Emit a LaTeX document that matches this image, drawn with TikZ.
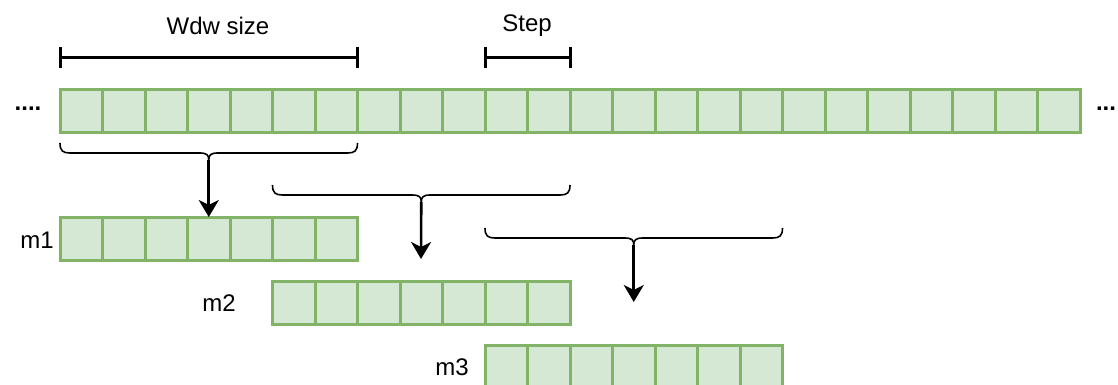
\documentclass[tikz,border=0pt]{standalone}
\usepackage{fontspec}
\setmainfont{Liberation Sans}
\usetikzlibrary{arrows.meta}
\definecolor{cellfill}{HTML}{D5E8D4}
\definecolor{celldraw}{HTML}{82B366}
\tikzset{
  arr/.style={fill=cellfill, draw=celldraw, line width=3pt, inner sep=0pt, outer sep=0pt, minimum height=43pt, anchor=north west},
  div/.style={draw=celldraw, line width=3pt},
  lbl/.style={font=\fontsize{24}{27}\selectfont, inner sep=0pt},
  dots/.style={font=\bfseries\fontsize{24}{27}\selectfont, inner sep=0pt},
  bar/.style={line width=3pt, black},
  bracepath/.style={line width=1.6pt, black},
  flow/.style={line width=2.6pt, -{Stealth[length=17pt,width=20pt,inset=5pt]}},
}
\newcommand{\mybrace}[4]{% left x, right x, top y, name
  \pgfmathsetmacro{\cx}{(#1+#2)/2}
  \draw[bracepath] (#1,#3) .. controls (#1,#3+8) and (#1+3,#3+10) .. (#1+10,#3+10)
    -- (\cx-9,#3+10) .. controls (\cx-2,#3+10) and (\cx,#3+12) .. (\cx,#3+17)
    .. controls (\cx,#3+12) and (\cx+2,#3+10) .. (\cx+9,#3+10)
    -- (#2-10,#3+10) .. controls (#2-3,#3+10) and (#2,#3+8) .. (#2,#3);
  \coordinate (#4) at (\cx,#3+17);
}
\begin{document}
\begin{tikzpicture}[x=1pt,y=-1pt]
\useasboundingbox (0,0) rectangle (1118,385);
% main strip
\node[arr, minimum width=1020pt] (strip) at (60,89.5) {};
\foreach \i in {1,...,23} {\draw[div] (60+42.5*\i,89.5) -- (60+42.5*\i,132.5);}
\node[dots] (dl) at (28,109) {....};
\node[dots] (dr) at (1106,109) {...};
% window size bar
\draw[bar] (60,47) -- (60,68) (60,57.5) -- (357.5,57.5) (357.5,47) -- (357.5,68);
\node[lbl] (wdw) at (218,26) {Wdw size};
\draw[bar] (485,47) -- (485,68) (485,57.5) -- (570,57.5) (570,47) -- (570,68);
\node[lbl] (step) at (527,26) {Step};
% windows
\node[arr, minimum width=297.5pt] (m1) at (60,217) {};
\foreach \i in {1,...,6} {\draw[div] (60+42.5*\i,217) -- (60+42.5*\i,260);}
\node[lbl] (l1) at (37,240) {m1};
\node[arr, minimum width=297.5pt] (m2) at (272.5,281) {};
\foreach \i in {1,...,6} {\draw[div] (272.5+42.5*\i,281) -- (272.5+42.5*\i,324);}
\node[lbl] (l2) at (219,303) {m2};
\node[arr, minimum width=297.5pt] (m3) at (485,345) {};
\foreach \i in {1,...,6} {\draw[div] (485+42.5*\i,345) -- (485+42.5*\i,388);}
\node[lbl] (l3) at (452,367) {m3};
% braces
\mybrace{60}{357.5}{143}{b1}
\mybrace{272.5}{570}{185}{b2}
\mybrace{485}{782.5}{228}{b3}
\coordinate (e2) at (421,259);
\coordinate (e3) at (633.75,302);
\draw[flow] (b1) -- (b1 |- m1.north);
\draw[flow] (b2) -- (e2);
\draw[flow] (b3) -- (e3);
\end{tikzpicture}
\end{document}
